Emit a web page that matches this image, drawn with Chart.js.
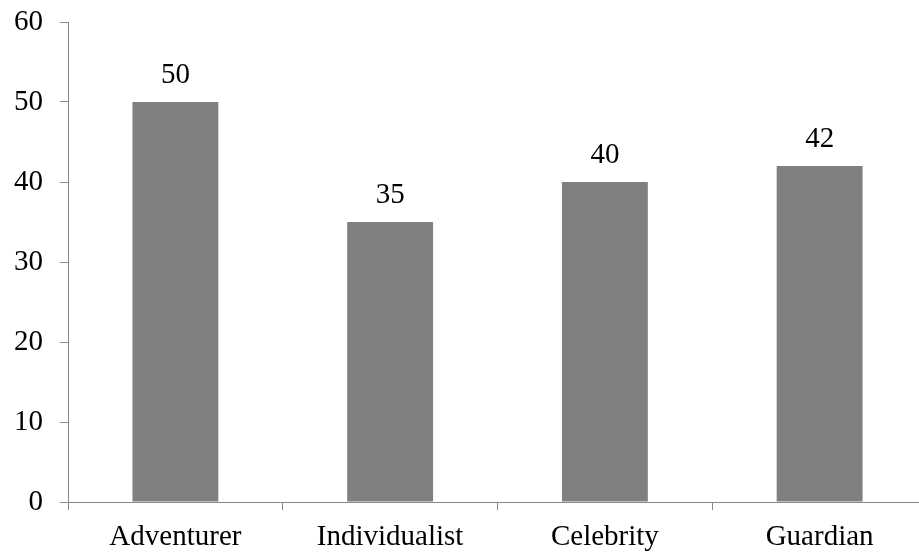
<!DOCTYPE html>
<html>
<head>
<meta charset="utf-8">
<script src="https://cdn.jsdelivr.net/npm/chart.js@4"></script>
<style>
  html, body { margin: 0; padding: 0; background: #fff; overflow: hidden; }
  #wrap { width: 935px; height: 556px; }
</style>
</head>
<body>
<div id="wrap"><canvas id="chart" width="935" height="556"></canvas></div>
<script>
// Data
const categories = ["Adventurer", "Individualist", "Celebrity", "Guardian"];
const values = [50, 35, 40, 42];
const yTicks = [0, 10, 20, 30, 40, 50, 60];

const axisColor = "#888888";
const fontFamily = "'Liberation Serif', 'Times New Roman', serif";

// value labels above bars
const barLabels = {
  id: "barLabels",
  afterDatasetsDraw(chart) {
    const ctx = chart.ctx;
    const meta = chart.getDatasetMeta(0);
    ctx.save();
    ctx.fillStyle = "#000";
    ctx.font = "29px " + fontFamily;
    ctx.textAlign = "center";
    ctx.textBaseline = "alphabetic";
    meta.data.forEach((bar, i) => {
      ctx.fillText(String(values[i]), bar.x, bar.y - 19);
    });
    ctx.restore();
  }
};

const ctx = document.getElementById("chart").getContext("2d");
new Chart(ctx, {
  type: "bar",
  data: {
    labels: categories,
    datasets: [{
      data: values,
      backgroundColor: "#808080",
      borderWidth: 0,
      categoryPercentage: 1,
      barPercentage: 0.4
    }]
  },
  options: {
    responsive: false,
    animation: false,
    layout: { padding: { top: 22, right: 8, left: 0, bottom: 0 } },
    plugins: { legend: { display: false }, tooltip: { enabled: false } },
    scales: {
      x: {
        offset: true,
        grid: { offset: true, drawOnChartArea: false, drawTicks: true, tickLength: 8, color: axisColor },
        border: { display: true, color: axisColor, width: 1 },
        ticks: { color: "#000", font: { family: fontFamily, size: 29 }, padding: 10, maxRotation: 0 },
        afterFit: s => { s.height = 54; s.paddingLeft = 0; s.paddingRight = 0; }
      },
      y: {
        min: 0,
        max: 60,
        afterBuildTicks: s => { s.ticks = yTicks.map(v => ({ value: v })); },
        grid: { drawOnChartArea: false, drawTicks: true, tickLength: 8, color: axisColor },
        border: { display: true, color: axisColor, width: 1 },
        ticks: { color: "#000", font: { family: fontFamily, size: 29 }, padding: 17 },
        afterFit: s => { s.width = 68; s.paddingTop = 0; s.paddingBottom = 0; }
      }
    }
  },
  plugins: [barLabels]
});
</script>
</body>
</html>
